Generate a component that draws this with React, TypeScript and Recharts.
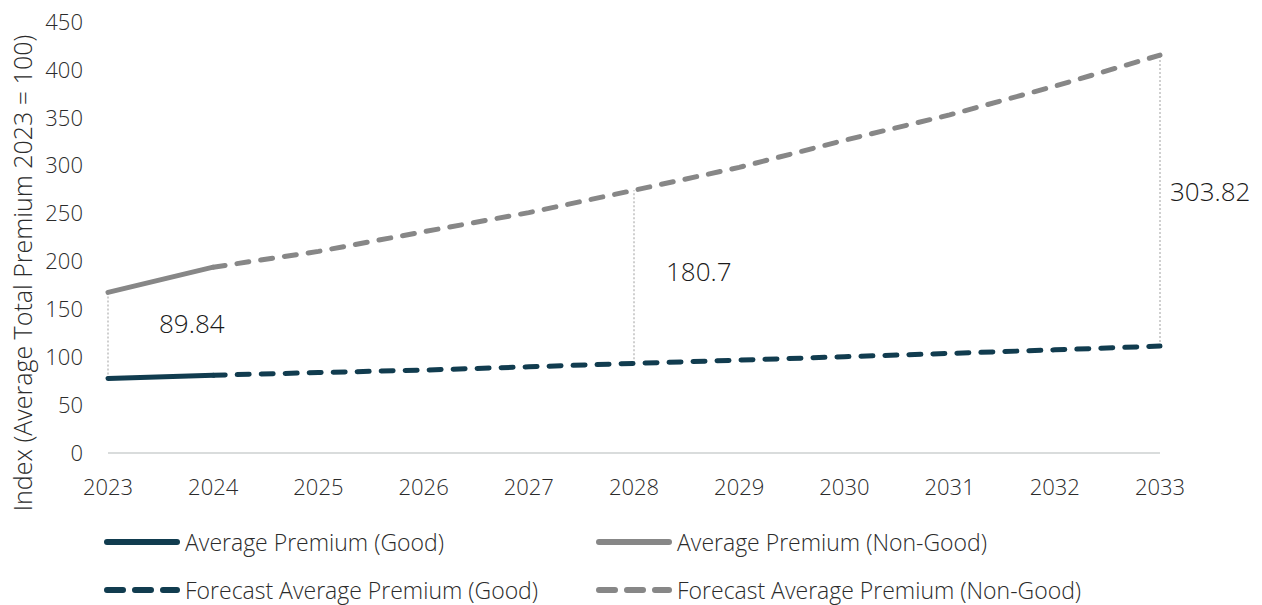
import React from "react";
import { LineChart, Line, XAxis, YAxis, ReferenceLine, Legend } from "recharts";

// index values, 2023 = 100 base
const years = ["2023", "2024", "2025", "2026", "2027", "2028", "2029", "2030", "2031", "2032", "2033"];
const goodActual = [77.8, 81.2, null, null, null, null, null, null, null, null, null];
const nonGoodActual = [167.64, 194.0, null, null, null, null, null, null, null, null, null];
const goodForecast = [null, 81.2, 84.0, 86.6, 90.0, 93.6, 97.0, 100.5, 104.0, 107.7, 111.6];
const nonGoodForecast = [null, 194.0, 210.5, 231.0, 251.0, 274.3, 298.2, 326.5, 353.0, 383.0, 415.42];
const gapYears = ["2023", "2028", "2033"];
const yTicks = [0, 50, 100, 150, 200, 250, 300, 350, 400, 450];

const GOOD = "#113c4f";
const NON_GOOD = "#878787";
const FONT = "'Open Sans', sans-serif";
const TEXT = "#2b2b2b";
const WEIGHT = 300;

// where each gap label sits relative to its drop line
const gapLabelOffsets = [
  { dx: 51, dy: -12 },
  { dx: 32, dy: -6 },
  { dx: 10, dy: -10 },
];

const data = years.map((year, i) => ({
  year,
  goodActual: goodActual[i],
  nonGoodActual: nonGoodActual[i],
  goodForecast: goodForecast[i],
  nonGoodForecast: nonGoodForecast[i],
}));

const goodAt = (i: number) => (goodActual[i] ?? goodForecast[i]) as number;
const nonGoodAt = (i: number) => (nonGoodActual[i] ?? nonGoodForecast[i]) as number;

const gaps = gapYears.map((year, k) => {
  const i = years.indexOf(year);
  const low = goodAt(i);
  const high = nonGoodAt(i);
  return { year, low, high, text: String(Number((high - low).toFixed(2))), ...gapLabelOffsets[k] };
});

const legendItems = [
  { name: "Average Premium (Good)", color: GOOD, dashed: false },
  { name: "Average Premium (Non-Good)", color: NON_GOOD, dashed: false },
  { name: "Forecast Average Premium (Good)", color: GOOD, dashed: true },
  { name: "Forecast Average Premium (Non-Good)", color: NON_GOOD, dashed: true },
];

const LegendBox = () => (
  <div style={{ display: "grid", gridTemplateColumns: "492px 560px", rowGap: 20, fontFamily: FONT }}>
    {legendItems.map((it) => (
      <div key={it.name} style={{ display: "flex", alignItems: "center", height: 28 }}>
        <svg width={76} height={10} style={{ marginRight: 5 }}>
          <line
            x1={3}
            x2={73}
            y1={5}
            y2={5}
            stroke={it.color}
            strokeWidth={6}
            strokeLinecap="round"
            strokeDasharray={it.dashed ? "16 12" : undefined}
          />
        </svg>
        <span style={{ fontSize: 23, fontWeight: WEIGHT, color: TEXT, whiteSpace: "nowrap" }}>{it.name}</span>
      </div>
    ))}
  </div>
);

const GapShape = (props: any, gap: (typeof gaps)[number]) => {
  const { x1, y1, x2, y2 } = props;
  const midY = (y1 + y2) / 2;
  return (
    <g>
      <line x1={x1} y1={y1} x2={x2} y2={y2} stroke="#c0c0c0" strokeWidth={1.5} strokeDasharray="2 2" />
      <text
        x={x1 + gap.dx}
        y={midY + gap.dy}
        dominantBaseline="central"
        fontFamily={FONT}
        fontWeight={WEIGHT}
        fontSize={26}
        fill="#1a1a1a"
      >
        {gap.text}
      </text>
    </g>
  );
};

const YTitle = () => (
  <text
    x={22}
    y={273}
    transform="rotate(-90 22 273)"
    textAnchor="middle"
    dominantBaseline="central"
    fontFamily={FONT}
    fontWeight={WEIGHT}
    fontSize={25}
    fill={TEXT}
  >
    Index (Average Total Premium 2023 = 100)
  </text>
);

const tickStyle = { fill: TEXT, fontSize: 22, fontFamily: FONT, fontWeight: WEIGHT };

export default function App() {
  return (
    <div style={{ position: "absolute", left: 0, top: 0, width: 1262, height: 605, background: "#fff" }}>
      <LineChart width={1262} height={605} data={data} margin={{ top: 22, right: 102, left: 0, bottom: 102 }}>
        <XAxis
          dataKey="year"
          height={50}
          tickSize={0}
          tickMargin={26}
          axisLine={{ stroke: "#d9dcdc", strokeWidth: 2 }}
          tick={tickStyle}
          interval={0}
        />
        <YAxis
          width={108}
          domain={[0, 450]}
          ticks={yTicks}
          tickSize={0}
          tickMargin={25}
          axisLine={false}
          tick={tickStyle}
          label={<YTitle />}
        />
        {gaps.map((g) => (
          <ReferenceLine
            key={g.year}
            segment={[
              { x: g.year, y: g.low },
              { x: g.year, y: g.high },
            ]}
            shape={(p: any) => GapShape(p, g)}
          />
        ))}
        <Line dataKey="goodActual" stroke={GOOD} strokeWidth={5} strokeLinecap="round" dot={false} isAnimationActive={false} />
        <Line dataKey="nonGoodActual" stroke={NON_GOOD} strokeWidth={5} strokeLinecap="round" dot={false} isAnimationActive={false} />
        <Line
          dataKey="goodForecast"
          stroke={GOOD}
          strokeWidth={5}
          strokeLinecap="round"
          strokeDasharray="12 12"
          dot={false}
          isAnimationActive={false}
        />
        <Line
          dataKey="nonGoodForecast"
          stroke={NON_GOOD}
          strokeWidth={5}
          strokeLinecap="round"
          strokeDasharray="12 12"
          dot={false}
          isAnimationActive={false}
        />
        <Legend
          layout="horizontal"
          verticalAlign="middle"
          align="center"
          wrapperStyle={{ top: 528, left: 104, width: 1100 }}
          content={() => <LegendBox />}
        />
      </LineChart>
    </div>
  );
}
